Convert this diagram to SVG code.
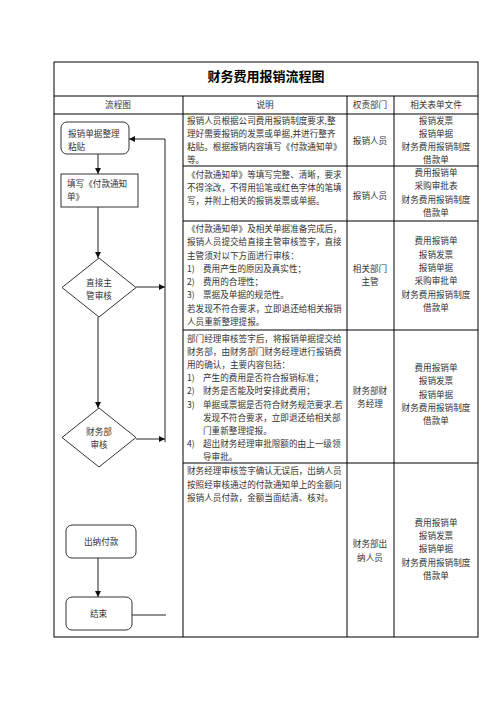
<svg xmlns="http://www.w3.org/2000/svg" width="496" height="702" viewBox="0 0 496 702">
<style>
.t{font-family:"Noto Sans CJK SC","Noto Sans",sans-serif;font-size:8.6px;fill:#333}
.c{text-anchor:middle}
.title{font-family:"Noto Sans CJK SC",sans-serif;font-size:13px;font-weight:bold;fill:#000;text-anchor:middle}
.grid{stroke:#000;stroke-width:1;fill:none}
.node{fill:#fff;stroke:#333;stroke-width:1}
.con{stroke:#222;stroke-width:1;fill:none}
</style>
<defs>
<marker id="ah" viewBox="0 0 10 10" refX="10" refY="5" markerWidth="6" markerHeight="6" orient="auto" markerUnits="userSpaceOnUse">
<path d="M0,0 L10,5 L0,10 z" fill="#111"/>
</marker>
</defs>
<rect width="496" height="702" fill="#fff"/>
<g id="table">
<rect class="grid" x="54" y="62" width="424" height="575"/>
<line class="grid" x1="54" y1="96" x2="478" y2="96"/>
<line class="grid" x1="54" y1="114" x2="478" y2="114"/>
<line class="grid" x1="183" y1="96" x2="183" y2="637"/>
<line class="grid" x1="347" y1="96" x2="347" y2="637"/>
<line class="grid" x1="394" y1="96" x2="394" y2="637"/>
<line class="grid" x1="183" y1="166" x2="478" y2="166"/>
<line class="grid" x1="183" y1="221" x2="478" y2="221"/>
<line class="grid" x1="183" y1="330" x2="478" y2="330"/>
<line class="grid" x1="183" y1="463" x2="478" y2="463"/>
<text class="title" x="266" y="81">财务费用报销流程图</text>
<text class="t c" x="118" y="108">流程图</text>
<text class="t c" x="265" y="108">说明</text>
<text class="t c" x="370" y="108">权责部门</text>
<text class="t c" x="436" y="108">相关表单文件</text>
</g>
<g id="desc">
<text class="t" x="187" y="124">报销人员根据公司费用报销制度要求,整</text>
<text class="t" x="187" y="137">理好需要报销的发票或单据,并进行整齐</text>
<text class="t" x="187" y="150">粘贴。根据报销内容填写《付款通知单》</text>
<text class="t" x="187" y="163">等。</text>
<text class="t" x="187" y="178">《付款通知单》等填写完整、清晰，要求</text>
<text class="t" x="187" y="191">不得涂改，不得用铅笔或红色字体的笔填</text>
<text class="t" x="187" y="204">写，并附上相关的报销发票或单据。</text>
<text class="t" x="187" y="232">《付款通知单》及相关单据准备完成后，</text>
<text class="t" x="187" y="245">报销人员提交给直接主管审核签字，直接</text>
<text class="t" x="187" y="259">主管须对以下方面进行审核：</text>
<text class="t" x="187" y="272">1)</text><text class="t" x="203" y="272">费用产生的原因及真实性；</text>
<text class="t" x="187" y="285">2)</text><text class="t" x="203" y="285">费用的合理性；</text>
<text class="t" x="187" y="298">3)</text><text class="t" x="203" y="298">票据及单据的规范性。</text>
<text class="t" x="187" y="312">若发现不符合要求，立即退还给相关报销</text>
<text class="t" x="187" y="325">人员重新整理提报。</text>
<text class="t" x="187" y="342">部门经理审核签字后，将报销单据提交给</text>
<text class="t" x="187" y="355">财务部，由财务部门财务经理进行报销费</text>
<text class="t" x="187" y="368">用的确认，主要内容包括：</text>
<text class="t" x="187" y="381">1)</text><text class="t" x="203" y="381">产生的费用是否符合报销标准；</text>
<text class="t" x="187" y="394">2)</text><text class="t" x="203" y="394">财务是否能及时安排此费用；</text>
<text class="t" x="187" y="408">3)</text><text class="t" x="203" y="408">单据或票据是否符合财务规范要求.若</text>
<text class="t" x="203" y="421">发现不符合要求，立即退还给相关部</text>
<text class="t" x="203" y="434">门重新整理提报。</text>
<text class="t" x="187" y="447">4)</text><text class="t" x="203" y="447">超出财务经理审批限额的由上一级领</text>
<text class="t" x="203" y="460">导审批。</text>
<text class="t" x="187" y="474">财务经理审核签字确认无误后，出纳人员</text>
<text class="t" x="187" y="488">按照经审核通过的付款通知单上的金额向</text>
<text class="t" x="187" y="501">报销人员付款，金额当面结清、核对。</text>
</g>
<g id="roles">
<text class="t c" x="370" y="144">报销人员</text>
<text class="t c" x="370" y="199">报销人员</text>
<text class="t c" x="370" y="272">相关部门</text>
<text class="t c" x="370" y="285">主管</text>
<text class="t c" x="370" y="394">财务部财</text>
<text class="t c" x="370" y="407">务经理</text>
<text class="t c" x="370" y="547">财务部出</text>
<text class="t c" x="370" y="561">纳人员</text>
</g>
<g id="forms">
<text class="t c" x="436" y="124">报销发票</text>
<text class="t c" x="436" y="137">报销单据</text>
<text class="t c" x="436" y="150">财务费用报销制度</text>
<text class="t c" x="436" y="163">借款单</text>
<text class="t c" x="436" y="176">费用报销单</text>
<text class="t c" x="436" y="189">采购审批表</text>
<text class="t c" x="436" y="203">财务费用报销制度</text>
<text class="t c" x="436" y="216">借款单</text>
<text class="t c" x="436" y="244">费用报销单</text>
<text class="t c" x="436" y="258">报销发票</text>
<text class="t c" x="436" y="271">报销单据</text>
<text class="t c" x="436" y="284">采购审批单</text>
<text class="t c" x="436" y="298">财务费用报销制度</text>
<text class="t c" x="436" y="311">借款单</text>
<text class="t c" x="436" y="371">费用报销单</text>
<text class="t c" x="436" y="384">报销发票</text>
<text class="t c" x="436" y="398">报销单据</text>
<text class="t c" x="436" y="411">财务费用报销制度</text>
<text class="t c" x="436" y="424">借款单</text>
<text class="t c" x="436" y="526">费用报销单</text>
<text class="t c" x="436" y="539">报销发票</text>
<text class="t c" x="436" y="552">报销单据</text>
<text class="t c" x="436" y="566">财务费用报销制度</text>
<text class="t c" x="436" y="579">借款单</text>
</g>
<g id="connectors">
<line class="con" x1="98" y1="154" x2="98" y2="174" marker-end="url(#ah)"/>
<line class="con" x1="98" y1="207" x2="98" y2="258" marker-end="url(#ah)"/>
<line class="con" x1="98" y1="317" x2="98" y2="408" marker-end="url(#ah)"/>
<line class="con" x1="136" y1="287" x2="165" y2="287" marker-end="url(#ah)"/>
<line class="con" x1="136" y1="439" x2="165" y2="439" marker-end="url(#ah)"/>
<polyline class="con" points="165,442 165,139 129,139" marker-end="url(#ah)"/>
<line class="con" x1="98" y1="558" x2="98" y2="597" marker-end="url(#ah)"/>
<line class="con" x1="132" y1="615" x2="166" y2="615"/>
</g>
<g id="n1">
<rect class="node" x="61" y="122" width="68" height="32" rx="6"/>
<text class="t" x="68" y="137">报销单据整理</text>
<text class="t" x="68" y="150">粘贴</text>
</g>
<g id="n2">
<rect class="node" x="61" y="174" width="77" height="33"/>
<text class="t" x="67" y="187">填写《付款通知</text>
<text class="t" x="67" y="200">单》</text>
</g>
<g id="n3">
<polygon class="node" points="99,258 136,287.5 99,317 62,287.5"/>
<text class="t c" x="99" y="286">直接主</text>
<text class="t c" x="99" y="299">管审核</text>
</g>
<g id="n4">
<polygon class="node" points="99,408 136,437.5 99,467 62,437.5"/>
<text class="t c" x="99" y="435">财务部</text>
<text class="t c" x="99" y="448">审核</text>
</g>
<g id="n5">
<rect class="node" x="66" y="525" width="70" height="33" rx="6"/>
<text class="t" x="84" y="545">出纳付款</text>
</g>
<g id="n6">
<rect class="node" x="66" y="597" width="66" height="33" rx="6"/>
<text class="t" x="90" y="617">结束</text>
</g>
</svg>
